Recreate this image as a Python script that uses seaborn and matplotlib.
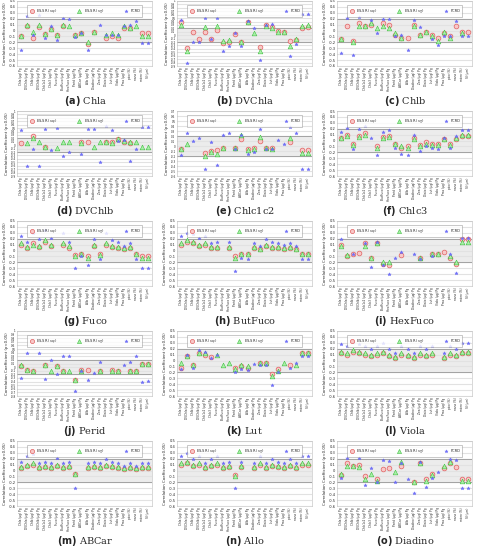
import numpy as np
import seaborn as sns
import matplotlib.pyplot as plt
from matplotlib.lines import Line2D
from matplotlib.ticker import FuncFormatter

NA = np.nan

labels = ["Chla (μg) Pg", "DVChla (μg) Pg", "Chlb (μg) Pg", "DVChlb (μg) Pg", "Chlc1c2 (μg) Pg",
          "Chlc3 (μg) Pg", "Fuco (μg) Pg", "ButFuco (μg) Pg", "HexFuco (μg) Pg", "Perid (μg) Pg",
          "ABCar (μg) Pg", "Allo (μg) Pg", "Diadino (μg) Pg", "Zea (μg) Pg", "Diato (μg) Pg",
          "Lut (μg) Pg", "Viola (μg) Pg", "Pras (μg) Pg", "pico (%)", "nano (%)", "micro (%)", "SI (μm)"]

# ---- values (NaN = not significant / not drawn)
chla_red = [-0.10, 0.08, -0.13, 0.06, -0.06, 0.03, -0.07, 0.08, NA, -0.07, -0.04, -0.22, -0.03, NA, -0.12, -0.10, -0.12, 0.05, 0.04, NA, -0.05, -0.05]
chla_green = [-0.10, 0.10, -0.02, 0.10, -0.06, 0.03, -0.07, 0.09, 0.08, -0.07, -0.04, -0.20, -0.03, NA, -0.07, -0.05, -0.07, 0.07, 0.05, 0.07, -0.09, -0.09]
chla_blue = [-0.33, 0.25, -0.08, 0.26, -0.12, 0.08, -0.16, 0.22, 0.19, -0.11, -0.04, -0.33, NA, 0.10, -0.07, -0.07, -0.07, 0.07, 0.09, 0.16, -0.21, -0.21]

dvchla_red = [0.38, -0.38, 0.08, -0.12, 0.10, -0.12, 0.15, -0.22, -0.20, 0.05, -0.20, 0.40, NA, -0.33, 0.30, 0.25, 0.13, 0.10, -0.18, -0.13, 0.22, 0.25]
dvchla_green = [0.30, -0.45, NA, NA, 0.25, NA, 0.28, -0.18, -0.15, NA, -0.20, 0.38, 0.07, -0.45, 0.27, 0.22, 0.08, 0.10, -0.32, -0.12, 0.28, 0.30]
dvchla_blue = [0.45, -0.80, -0.20, -0.20, 0.50, -0.12, 0.50, -0.45, -0.32, 0.07, -0.32, 0.42, 0.20, -0.72, 0.30, 0.32, NA, NA, -0.60, -0.25, 0.62, 0.62]

chlb_red = [-0.15, 0.08, -0.17, 0.12, 0.07, 0.10, NA, 0.12, 0.10, -0.07, -0.13, -0.13, 0.10, -0.08, -0.02, -0.07, -0.13, -0.05, -0.10, 0.08, -0.03, -0.03]
chlb_green = [-0.15, NA, -0.20, 0.07, 0.07, 0.12, 0.05, 0.08, 0.05, -0.05, -0.12, NA, 0.08, -0.07, -0.02, -0.10, -0.17, -0.02, -0.13, NA, -0.05, NA]
chlb_blue = [-0.38, 0.22, -0.42, 0.23, NA, 0.18, -0.05, 0.20, 0.20, -0.10, -0.08, -0.33, 0.18, 0.06, NA, -0.15, -0.25, -0.10, -0.10, 0.16, -0.10, -0.10]

dvchlb_red = [0.07, NA, 0.28, NA, -0.05, NA, NA, NA, NA, NA, 0.08, 0.10, NA, NA, 0.08, 0.10, 0.17, 0.10, 0.06, NA, NA, NA]
dvchlb_green = [NA, 0.07, 0.22, 0.10, -0.05, NA, -0.08, 0.08, 0.08, NA, 0.07, NA, -0.06, 0.08, 0.08, 0.06, 0.18, 0.13, 0.10, 0.08, -0.06, -0.06]
dvchlb_blue = [0.45, -0.62, -0.12, -0.62, 0.48, -0.15, 0.50, -0.32, -0.20, NA, -0.25, 0.48, 0.48, -0.50, 0.55, 0.45, 0.13, 0.16, -0.45, -0.12, 0.52, 0.53]

chlc1c2_red = [-0.05, NA, NA, NA, -0.13, -0.10, -0.08, -0.03, NA, -0.03, 0.15, -0.05, -0.03, 0.10, -0.03, -0.03, NA, NA, 0.08, NA, -0.08, -0.08]
chlc1c2_green = [-0.05, 0.05, NA, NA, -0.20, -0.12, -0.15, -0.03, NA, -0.03, 0.22, -0.07, -0.06, 0.18, -0.04, -0.06, NA, NA, 0.17, NA, -0.13, -0.13]
chlc1c2_blue = [-0.18, 0.27, 0.10, 0.16, -0.45, 0.08, -0.38, 0.23, 0.27, -0.05, 0.22, -0.15, -0.12, 0.35, -0.06, -0.06, 0.13, 0.05, 0.38, 0.27, -0.45, -0.45]

chlc3_red = [0.05, 0.10, -0.05, 0.08, 0.12, NA, -0.10, 0.06, 0.08, -0.05, -0.12, -0.10, 0.05, -0.08, -0.03, -0.05, -0.06, 0.02, -0.05, 0.03, 0.08, 0.08]
chlc3_green = [0.05, 0.08, -0.08, 0.06, 0.10, NA, -0.12, 0.04, 0.06, -0.05, -0.10, -0.12, 0.03, -0.10, -0.05, -0.07, -0.08, 0.02, -0.07, 0.05, 0.10, 0.10]
chlc3_blue = [0.15, 0.22, -0.15, 0.20, 0.25, 0.05, -0.25, 0.15, 0.18, -0.12, -0.22, -0.25, 0.10, -0.18, -0.10, -0.12, -0.15, 0.05, -0.12, 0.08, 0.18, 0.18]

fuco_red = [0.10, 0.05, 0.12, 0.06, 0.15, 0.08, NA, 0.10, 0.05, -0.08, -0.05, -0.10, 0.08, -0.05, 0.10, 0.06, 0.05, 0.03, 0.05, -0.05, -0.10, -0.10]
fuco_green = [0.12, 0.06, 0.10, 0.08, 0.18, 0.10, NA, 0.12, 0.08, -0.10, -0.05, -0.12, 0.10, -0.07, 0.12, 0.08, 0.06, 0.04, 0.06, -0.06, -0.12, -0.12]
fuco_blue = [0.25, 0.15, 0.30, 0.20, 0.35, 0.22, NA, 0.30, 0.15, -0.30, -0.10, -0.25, 0.20, -0.15, 0.30, 0.18, 0.15, 0.08, 0.12, -0.15, -0.30, -0.30]

butfuco_red = [0.10, 0.15, 0.12, 0.08, 0.10, 0.05, 0.05, NA, 0.05, -0.10, -0.05, -0.05, 0.05, 0.02, 0.08, 0.05, 0.05, 0.03, 0.05, 0.02, -0.05, -0.05]
butfuco_green = [0.12, 0.18, 0.15, 0.10, 0.12, 0.06, 0.06, NA, 0.06, -0.12, -0.06, -0.06, 0.06, 0.03, 0.10, 0.06, 0.06, 0.04, 0.06, 0.03, -0.06, -0.06]
butfuco_blue = [0.25, 0.30, 0.28, 0.22, 0.25, 0.12, 0.15, NA, 0.15, -0.35, -0.12, -0.15, 0.12, 0.08, 0.20, 0.15, 0.12, 0.10, 0.12, 0.08, -0.15, -0.15]

hexfuco_red = [0.10, -0.10, -0.05, -0.04, 0.12, -0.13, 0.12, -0.22, -0.25, NA, -0.07, NA, NA, -0.12, NA, -0.06, -0.05, -0.03, -0.12, -0.22, 0.20, 0.20]
hexfuco_green = [0.07, -0.08, NA, NA, 0.08, -0.12, 0.12, -0.20, -0.20, NA, NA, NA, NA, -0.12, NA, -0.06, -0.06, NA, -0.10, -0.20, 0.15, 0.15]
hexfuco_blue = [0.20, NA, -0.05, NA, 0.13, -0.27, 0.15, -0.25, -0.40, -0.13, -0.03, NA, -0.05, -0.14, NA, -0.10, NA, NA, -0.06, -0.38, 0.22, 0.22]

perid_red = [0.03, -0.08, -0.10, NA, 0.07, NA, 0.02, -0.10, NA, -0.35, -0.08, -0.08, NA, -0.12, NA, -0.08, -0.10, NA, -0.12, -0.12, 0.10, 0.10]
perid_green = [0.05, -0.08, -0.10, NA, 0.05, -0.10, 0.02, -0.12, -0.10, -0.35, -0.10, NA, NA, -0.12, NA, -0.10, -0.10, NA, -0.12, -0.10, 0.10, 0.10]
perid_blue = [-0.30, 0.38, NA, 0.40, -0.33, 0.20, -0.18, 0.32, 0.32, -0.65, -0.12, -0.35, -0.15, 0.15, NA, NA, NA, 0.05, 0.15, 0.30, -0.40, -0.38]

lut_red = [-0.12, 0.07, -0.08, 0.12, 0.10, 0.06, NA, NA, NA, -0.12, -0.10, -0.12, NA, -0.05, -0.05, -0.22, -0.15, NA, -0.08, NA, 0.12, 0.12]
lut_green = [-0.05, 0.07, -0.08, 0.12, 0.13, NA, 0.10, -0.08, -0.05, -0.15, -0.08, -0.10, NA, -0.05, -0.05, -0.27, -0.18, -0.05, NA, -0.08, 0.12, 0.12]
lut_blue = [-0.15, 0.10, -0.12, 0.18, 0.15, 0.05, 0.09, NA, NA, -0.20, -0.15, -0.16, -0.06, -0.08, -0.08, -0.42, -0.20, NA, -0.13, -0.05, 0.08, 0.08]

viola_red = [0.12, 0.10, 0.15, 0.12, 0.10, 0.08, 0.10, 0.12, 0.08, 0.05, 0.10, 0.08, 0.05, 0.10, 0.08, 0.10, NA, 0.05, 0.10, 0.08, 0.12, 0.12]
viola_green = [0.15, 0.12, 0.18, 0.15, 0.12, 0.10, 0.12, 0.15, 0.10, 0.06, 0.12, 0.10, 0.06, 0.12, 0.10, 0.12, NA, 0.06, 0.12, 0.10, 0.15, 0.15]
viola_blue = [0.28, 0.25, 0.32, 0.28, 0.25, 0.20, 0.25, 0.30, 0.20, 0.12, 0.25, 0.20, 0.12, 0.25, 0.20, 0.25, NA, 0.12, 0.25, 0.20, 0.30, 0.30]

abcar_red = [0.05, 0.08, 0.10, 0.05, 0.06, 0.05, 0.08, 0.05, 0.06, -0.05, NA, 0.05, 0.06, 0.05, 0.08, 0.06, 0.05, 0.03, 0.05, 0.03, 0.05, 0.05]
abcar_green = [0.06, 0.10, 0.12, 0.06, 0.08, 0.06, 0.10, 0.06, 0.08, -0.06, NA, 0.06, 0.08, 0.06, 0.10, 0.08, 0.06, 0.04, 0.06, 0.04, 0.06, 0.06]
abcar_blue = [0.15, 0.25, 0.28, 0.12, 0.15, 0.12, 0.22, 0.12, 0.15, -0.30, NA, 0.12, 0.15, 0.12, 0.20, 0.15, 0.12, 0.08, 0.12, 0.08, 0.12, 0.12]

allo_red = [0.10, 0.12, 0.08, 0.10, 0.05, 0.08, 0.10, 0.05, 0.06, -0.08, 0.06, NA, 0.05, 0.10, 0.05, 0.08, 0.06, 0.05, 0.08, 0.05, 0.10, 0.10]
allo_green = [0.12, 0.15, 0.10, 0.12, 0.06, 0.10, 0.12, 0.06, 0.08, -0.10, 0.08, NA, 0.06, 0.12, 0.06, 0.10, 0.08, 0.06, 0.10, 0.06, 0.12, 0.12]
allo_blue = [0.25, 0.30, 0.20, 0.25, 0.12, 0.20, 0.25, 0.12, 0.15, -0.30, 0.15, NA, 0.12, 0.25, 0.12, 0.20, 0.15, 0.12, 0.20, 0.12, 0.25, 0.25]

diadino_red = [-0.07, 0.12, 0.08, 0.10, -0.10, NA, -0.15, 0.02, 0.05, NA, 0.08, NA, -0.20, 0.12, -0.15, -0.06, NA, 0.05, 0.13, 0.06, -0.15, -0.15]
diadino_green = [-0.05, 0.08, 0.08, 0.06, -0.15, -0.06, -0.17, NA, NA, -0.03, 0.15, NA, -0.20, 0.12, -0.17, -0.08, NA, 0.08, 0.15, NA, -0.17, -0.17]
diadino_blue = [-0.12, 0.22, NA, 0.22, -0.25, 0.05, -0.20, 0.18, 0.17, -0.20, 0.13, -0.15, -0.38, 0.15, -0.28, -0.12, -0.03, NA, 0.20, 0.18, -0.30, -0.30]

panels = [
    ("(a)", "Chla", chla_red, chla_green, chla_blue, (-0.6, 0.5)),
    ("(b)", "DVChla", dvchla_red, dvchla_green, dvchla_blue, (-0.9, 1.0)),
    ("(c)", "Chlb", chlb_red, chlb_green, chlb_blue, (-0.6, 0.5)),
    ("(d)", "DVChlb", dvchlb_red, dvchlb_green, dvchlb_blue, (-0.9, 1.0)),
    ("(e)", "Chlc1c2", chlc1c2_red, chlc1c2_green, chlc1c2_blue, (-0.6, 0.7)),
    ("(f)", "Chlc3", chlc3_red, chlc3_green, chlc3_blue, (-0.6, 0.5)),
    ("(g)", "Fuco", fuco_red, fuco_green, fuco_blue, (-0.6, 0.5)),
    ("(h)", "ButFuco", butfuco_red, butfuco_green, butfuco_blue, (-0.6, 0.5)),
    ("(i)", "HexFuco", hexfuco_red, hexfuco_green, hexfuco_blue, (-0.6, 0.5)),
    ("(j)", "Perid", perid_red, perid_green, perid_blue, (-0.8, 1.0)),
    ("(k)", "Lut", lut_red, lut_green, lut_blue, (-0.6, 0.5)),
    ("(l)", "Viola", viola_red, viola_green, viola_blue, (-0.6, 0.5)),
    ("(m)", "ABCar", abcar_red, abcar_green, abcar_blue, (-0.6, 0.5)),
    ("(n)", "Allo", allo_red, allo_green, allo_blue, (-0.6, 0.5)),
    ("(o)", "Diadino", diadino_red, diadino_green, diadino_blue, (-0.6, 0.5)),
]

sns.set_style("whitegrid", {"grid.color": "#e2e2e2", "axes.edgecolor": "#bbbbbb"})

W, H = 482, 550
fig = plt.figure(figsize=(W / 100, H / 100), dpi=100)

red_kw = dict(marker="o", color="#f8c8c8", edgecolor="#e06060", linewidth=0.5, size=3.4)
green_kw = dict(marker="^", color="#a8f0a8", edgecolor="#40c040", linewidth=0.4, size=3.4)
blue_kw = dict(marker="*", color="#7070ff", edgecolor="#5050ee", linewidth=0.2, size=2.6)

for i, (tag, name, red, green, blue, ylim) in enumerate(panels):
    r, c = divmod(i, 3)
    left = (17 + 160 * c) / W
    bottom = 1 - (66 + 110 * r) / H
    ax = fig.add_axes([left, bottom, 135 / W, 65 / H])
    ax.axhspan(-0.2, 0.2, color="#ececec", zorder=0)
    for vals, kw in [(red, red_kw), (green, green_kw), (blue, blue_kw)]:
        sns.stripplot(x=labels, y=vals, order=labels, jitter=False, ax=ax, zorder=3, **kw)
    ax.axhline(0.2, color="#999999", lw=0.6, zorder=2)
    ax.axhline(-0.2, color="#999999", lw=0.6, zorder=2)
    ax.set_ylim(*ylim)
    ticks = np.round(np.arange(ylim[0], ylim[1] + 0.01, 0.1), 1)
    ax.set_yticks(ticks)
    ax.yaxis.set_major_formatter(FuncFormatter(lambda v, p: f"{v:g}" if abs(v) > 1e-9 else "0"))
    ax.set_xlim(-0.6, len(labels) - 0.4)
    ax.tick_params(axis="x", labelsize=2.1, rotation=90, pad=1, length=0)
    ax.tick_params(axis="y", labelsize=2.6 if len(ticks) <= 12 else 2.0, pad=1, length=0)
    ax.set_ylabel("Correlation Coefficient (p<0.05)", fontsize=2.8, labelpad=1)
    ax.set_xlabel("")
    for s in ax.spines.values():
        s.set_linewidth(0.4)
    handles = [
        Line2D([], [], ls="", marker="o", mfc="#f8c8c8", mec="#e06060", ms=3, mew=0.5),
        Line2D([], [], ls="", marker="^", mfc="#a8f0a8", mec="#40c040", ms=3, mew=0.4),
        Line2D([], [], ls="", marker="*", mfc="#7070ff", mec="#5050ee", ms=2.5, mew=0.2),
    ]
    leg = ax.legend(handles, ["ES-SR ($s_{sp}$)", "ES-SR ($s_{\\bigcirc}$)", "PCRD"], loc="upper center",
                    ncol=3, fontsize=2.6, frameon=True, handletextpad=0.3, columnspacing=5,
                    borderpad=0.4, bbox_to_anchor=(0.5, 0.96))
    leg.get_frame().set_linewidth(0.4)
    leg.get_frame().set_edgecolor("#888888")
    leg.get_frame().set_boxstyle("square", pad=0)
    cx = (85 + 160 * c) / W
    cy = 1 - (101 + 110 * r) / H
    fig.text(cx, cy, f"$\\mathbf{{{tag}}}$ {name}", ha="center", va="center", fontsize=7,
             family="DejaVu Serif")

fig.savefig("out.png", dpi=100)
